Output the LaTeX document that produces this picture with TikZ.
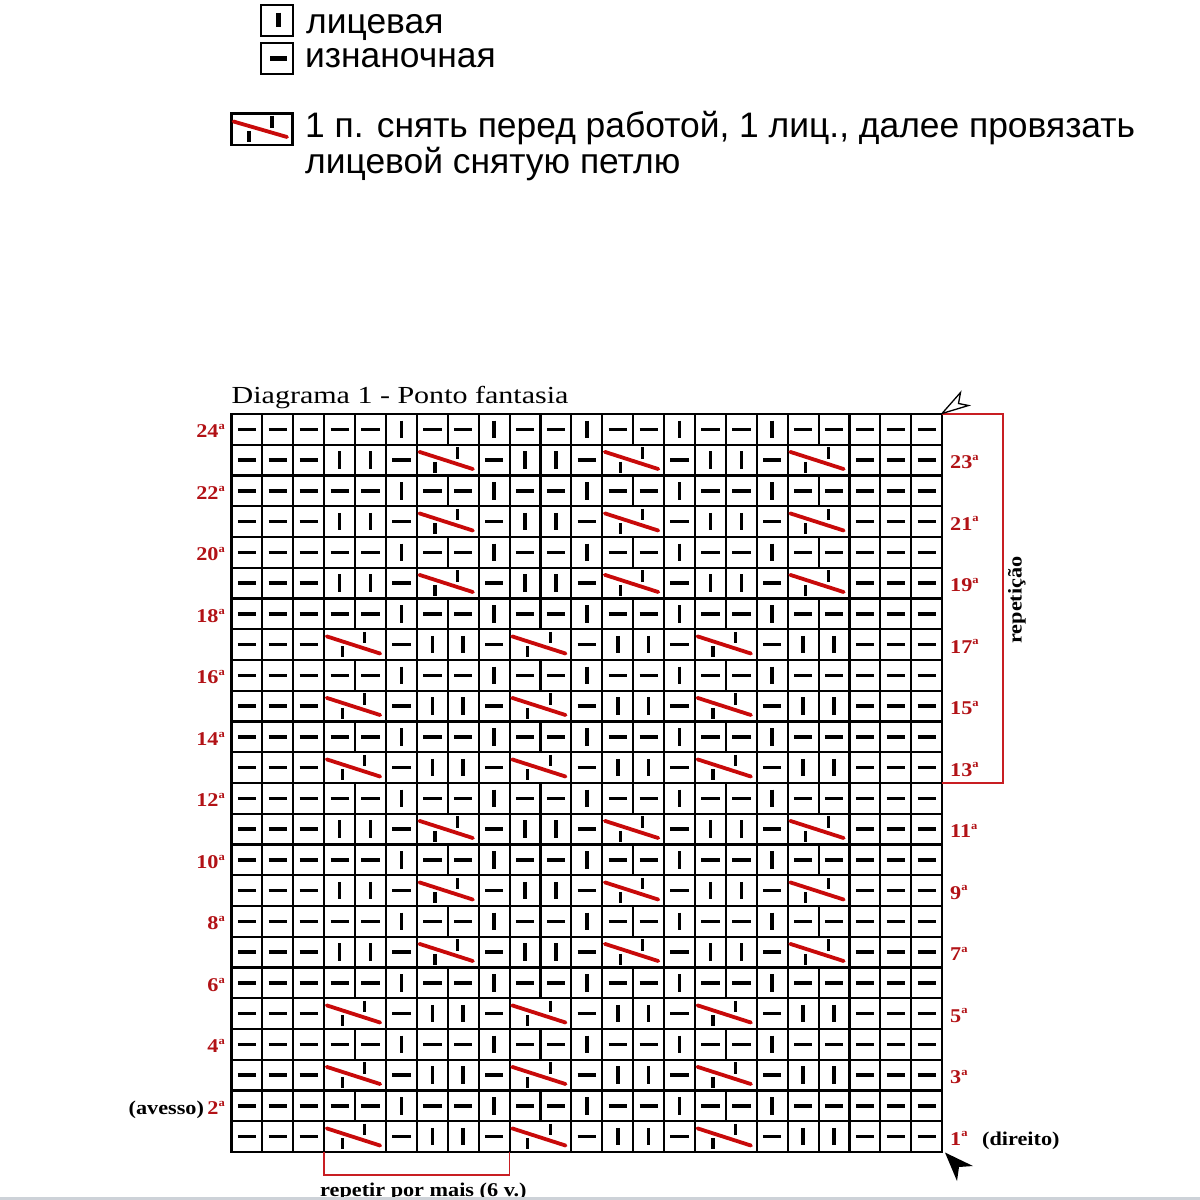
\documentclass[tikz,border=0pt]{standalone}
\usepackage{fontspec}
\setmainfont{Liberation Sans}
\newfontfamily\tms{Liberation Serif}
\definecolor{labred}{RGB}{178,18,22}
\definecolor{cabred}{RGB}{200,10,10}
\definecolor{brred}{RGB}{200,30,35}
\definecolor{bargray}{RGB}{205,210,216}
\newcommand\ord[1]{#1\raisebox{0.42em}{\fontsize{11}{11}\selectfont a}}
\newcommand\wide[1]{\scalebox{1.14}[1]{#1}}
\newcommand\cellxy[2]{\pgfmathsetmacro\xl{231.5+(#1-1)*30.9}\pgfmathsetmacro\yt{1152-(#2)*30.75}}
\newcommand\purlcell[2]{\cellxy{#1}{#2}\draw[gridline] (\xl,\yt) rectangle ++(30.9,30.75); \draw[symline] (\xl+6.3,\yt+15.4) -- ++(18.3,0);}
\newcommand\knitcell[2]{\cellxy{#1}{#2}\draw[gridline] (\xl,\yt) rectangle ++(30.9,30.75); \draw[symline] (\xl+15.45,\yt+6.6) -- ++(0,17.5);}
\newcommand\cablecell[2]{\cellxy{#1}{#2}\draw[gridline] (\xl,\yt) rectangle ++(61.8,30.75);
 \draw[cabline] (\xl+2.5,\yt+7.1) -- (\xl+56,\yt+24.3);
 \draw[ticksym] (\xl+40.5,\yt+2.5) -- ++(0,11.3);
 \draw[ticksym] (\xl+18,\yt+17) -- ++(0,11);}
\tikzset{
 gridline/.style={line width=2.1pt},
 symline/.style={line width=3.6pt},
 cabline/.style={line width=3.8pt, draw=cabred, line cap=round},
 ticksym/.style={line width=3.2pt},
 bracket/.style={draw=brred, line width=1.7pt},
 rowlab/.style={font=\tms\bfseries\fontsize{19.5}{19.5}\selectfont, text=labred, inner sep=0pt},
 blacklab/.style={font=\tms\bfseries\fontsize{19.5}{19.5}\selectfont, inner sep=0pt},
 legtext/.style={font=\fontsize{35.4}{35.4}\selectfont, inner sep=0pt, anchor=base west},
 legbox/.style={line width=2.2pt},
}
\begin{document}
\begin{tikzpicture}[x=1pt,y=-1pt]
\useasboundingbox (0,0) rectangle (1200,1200);
% legend
\draw[legbox] (261,5) rectangle (293,36);
\draw[line width=5pt] (278.5,12.5) -- (278.5,27);
\node[legtext] (lk) at (306,33) {лицевая};
\draw[legbox] (261,43) rectangle (293,74);
\draw[line width=5pt] (270,58.5) -- (286.5,58.5);
\node[legtext] (lp) at (305,67) {изнаночная};
\draw[legbox] (231.5,113.5) rectangle (292.5,145);
\draw[cabline,line width=3.8pt] (233.5,121.5) -- (287,137);
\draw[ticksym] (272,115.5) -- (272,128);
\draw[ticksym] (249,131) -- (249,142);
\node[legtext] (lc1) at (305,137) {1 п. снять перед работой, 1 лиц., далее провязать};
\node[legtext] (lc2) at (305,173) {лицевой снятую петлю};
% title
\node[anchor=base west, inner sep=0pt, font=\tms\fontsize{24.5}{26}\selectfont] (title) at (231.5,403) {\scalebox{1.225}[1]{Diagrama 1 - Ponto fantasia}};
% grid
\foreach \r in {2,4,...,24}{
  \foreach \c in {1,2,3,4,5,7,8,10,11,13,14,16,17,19,20,21,22,23}{\purlcell{\c}{\r}}
  \foreach \c in {6,9,12,15,18}{\knitcell{\c}{\r}}
}
\foreach \r in {1,3,...,23}{
  \foreach \c in {1,2,3,6,9,12,15,18,21,22,23}{\purlcell{\c}{\r}}
}
\foreach \r in {1,3,5,13,15,17}{
  \foreach \c in {7,8,13,14,19,20}{\knitcell{\c}{\r}}
  \foreach \c in {4,10,16}{\cablecell{\c}{\r}}
}
\foreach \r in {7,9,11,19,21,23}{
  \foreach \c in {4,5,10,11,16,17}{\knitcell{\c}{\r}}
  \foreach \c in {7,13,19}{\cablecell{\c}{\r}}
}
\draw[line width=2.2pt] (231.5,414) rectangle (942.2,1152);
% row labels
\foreach \r in {4,6,...,24}{
  \pgfmathsetmacro\yc{1152-(\r-0.5)*30.75+8.5}
  \node[rowlab, anchor=base east] (L\r) at (225,\yc) {\wide{\ord{\r}}};
}
\node[rowlab, anchor=base east] (L2) at (225,1114.4) {\wide{\ord{2}}};
\node[blacklab, anchor=base east] (av) at ([xshift=-3pt]L2.base west) {\wide{(avesso)}};
\foreach \r in {3,5,...,23}{
  \pgfmathsetmacro\yc{1152-(\r-0.5)*30.75+8.5}
  \node[rowlab, anchor=base west] (R\r) at (950,\yc) {\wide{\ord{\r}}};
}
\node[rowlab, anchor=base west] (R1) at (950,1145) {\wide{\ord{1}}};
\node[blacklab, anchor=base west] (dir) at (982,1145) {\wide{(direito)}};
% brackets
\coordinate (bt1) at (942,414);
\coordinate (bt2) at (942,783);
\draw[bracket] (bt1) -- (1003,414) -- (1003,783) -- (bt2);
\node[blacklab, rotate=90] (rep) at (1017,600) {\wide{repetição}};
\coordinate (bb1) at (324.2,1152);
\coordinate (bb2) at (509.6,1152);
\draw[bracket] (bb1) -- (324.2,1175) -- (509.6,1175) -- (bb2);
\node[blacklab, anchor=base west] (rpm) at (320,1196) {\wide{repetir por mais (6 v.)}};
% arrows
\draw[line width=1.3pt, fill=white, line join=miter] (942,413.5) -- (960.5,392.5) -- (958.5,403.5) -- (968.5,405.5) -- cycle;
\fill (945,1152.5) -- (973,1166) -- (959,1167) -- (957,1181) -- cycle;
\fill[bargray] (0,1197) rectangle (1200,1200);
\end{tikzpicture}
\end{document}
